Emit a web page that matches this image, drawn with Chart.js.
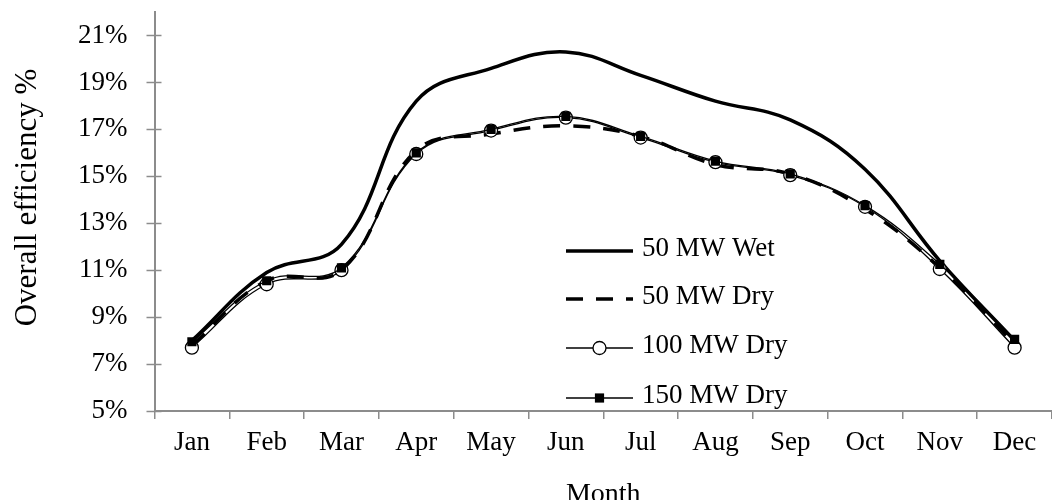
<!DOCTYPE html>
<html>
<head>
<meta charset="utf-8">
<script src="https://cdn.jsdelivr.net/npm/chart.js@4.4.1/dist/chart.umd.min.js"></script>
<style>
    html, body { margin: 0; padding: 0; background: #fff; }
    #wrap { width: 1052px; height: 500px; }
</style>
</head>
<body>
<div id="wrap"><canvas id="efficiency_chart"></canvas></div>
<script>
var months = ["Jan", "Feb", "Mar", "Apr", "May", "Jun", "Jul", "Aug", "Sep", "Oct", "Nov", "Dec"];
var wet50 = [8.0, 10.9, 12.1, 18.2, 19.6, 20.3, 19.3, 18.2, 17.4, 15.3, 11.4, 8.0];
var dry50 = [7.8, 10.55, 11.0, 16.1, 16.8, 17.15, 16.7, 15.5, 15.1, 13.6, 11.1, 7.85];
var dry100 = [7.7, 10.4, 11.0, 15.95, 16.95, 17.5, 16.65, 15.6, 15.05, 13.7, 11.05, 7.7];
var dry150 = [7.95, 10.55, 11.1, 16.0, 17.0, 17.55, 16.7, 15.65, 15.1, 13.75, 11.25, 8.05];
var seriesLabels = ["50 MW Wet", "50 MW Dry", "100 MW Dry", "150 MW Dry"];
var yTitle = "Overall efficiency %";
var xTitle = "Month";
var yMin = 5, yMax = 22;

var FONT = "'Liberation Serif', 'Times New Roman', serif";
var AXIS_GREY = "#8c8c8c";

// legend drawn inside the plot, like the original
var legendPlugin = {
    id: "insideLegend",
    afterDraw: function(chart){
        var ctx = chart.ctx;
        var rows = [251, 299, 348, 398];
        var x0 = 566, x1 = 633, tx = 642;
        ctx.save();
        chart.data.datasets.forEach(function(ds, i){
            var y = rows[i];
            ctx.beginPath();
            ctx.strokeStyle = "#000";
            ctx.lineWidth = ds.borderWidth;
            ctx.setLineDash(ds.borderDash || []);
            ctx.moveTo(x0, y);
            ctx.lineTo(x1, y);
            ctx.stroke();
            ctx.setLineDash([]);
            var cx = (x0 + x1) / 2;
            if (ds.pointStyle === "circle"){
                ctx.beginPath();
                ctx.arc(cx, y, ds.pointRadius, 0, Math.PI * 2);
                ctx.fillStyle = "#fff";
                ctx.fill();
                ctx.lineWidth = ds.pointBorderWidth;
                ctx.stroke();
            } else if (ds.pointStyle === "rect"){
                var h = ds.pointRadius * Math.SQRT1_2;
                ctx.fillStyle = "#000";
                ctx.fillRect(cx - h, y - h, h * 2, h * 2);
            }
            ctx.fillStyle = "#000";
            ctx.font = "27px " + FONT;
            ctx.textAlign = "left";
            ctx.textBaseline = "middle";
            ctx.fillText(ds.label, tx, y - 2);
        });
        ctx.restore();
    }
};

// y ticks: major ones cross the axis, minor ones sit inside; plus the y title
var yAxisPlugin = {
    id: "yAxisExtras",
    afterDraw: function(chart){
        var scale = chart.scales.y;
        var ctx = chart.ctx;
        var x = scale.right;
        ctx.save();
        ctx.strokeStyle = AXIS_GREY;
        ctx.lineWidth = 1.5;
        scale.ticks.forEach(function(t){
            var py = Math.round(scale.getPixelForValue(t.value)) + 0.5;
            var major = t.value % 2 === 1;
            ctx.beginPath();
            ctx.moveTo(major ? x - 8 : x, py);
            ctx.lineTo(x + 7, py);
            ctx.stroke();
        });
        ctx.translate(28, 197.5);
        ctx.rotate(-Math.PI / 2);
        ctx.fillStyle = "#000";
        ctx.font = "31px " + FONT;
        ctx.textAlign = "center";
        ctx.textBaseline = "middle";
        ctx.fillText(yTitle, 0, 0);
        ctx.restore();
    }
};

function makeDataset(label, data, opts){
    var ds = {
        label: label,
        data: data,
        borderColor: "#000",
        backgroundColor: "#000",
        fill: false,
        tension: 0.4,
        pointRadius: 0,
        pointHoverRadius: 0
    };
    for (var k in opts){
        ds[k] = opts[k];
    }
    return ds;
}

var ctx = document.getElementById("efficiency_chart");
new Chart(ctx, {
    type: "line",
    data: {
        labels: months,
        datasets: [
            makeDataset(seriesLabels[0], wet50, {borderWidth: 3.5, order: 4}),
            makeDataset(seriesLabels[1], dry50, {borderWidth: 3.5, borderDash: [17, 13], order: 3}),
            makeDataset(seriesLabels[2], dry100, {
                borderWidth: 1.3, order: 2,
                pointStyle: "circle", pointRadius: 6.5, pointBorderWidth: 1.3,
                pointBackgroundColor: "#fff", pointBorderColor: "#000"
            }),
            makeDataset(seriesLabels[3], dry150, {
                borderWidth: 1.3, order: 1,
                pointStyle: "rect", pointRadius: 6.5, pointBorderWidth: 0,
                pointBackgroundColor: "#000", pointBorderColor: "#000"
            })
        ]
    },
    options: {
        responsive: true,
        maintainAspectRatio: false,
        animation: false,
        layout: {
            autoPadding: false,
            padding: { top: 12, right: 0, bottom: 0, left: 0 }
        },
        plugins: {
            legend: { display: false },
            tooltip: { enabled: false }
        },
        scales: {
            x: {
                offset: true,
                grid: {
                    offset: true,
                    drawOnChartArea: false,
                    tickLength: 8,
                    color: AXIS_GREY,
                    lineWidth: 1.5
                },
                border: { display: true, color: AXIS_GREY, width: 2 },
                ticks: {
                    color: "#000",
                    font: { family: FONT, size: 27 },
                    padding: 8,
                    maxRotation: 0,
                    autoSkip: false
                },
                title: {
                    display: true,
                    text: xTitle,
                    color: "#000",
                    font: { family: FONT, size: 28 },
                    padding: { top: 0, bottom: -11 }
                },
                afterFit: function(scale){
                    scale.height = 89;
                    scale.paddingLeft = 0;
                    scale.paddingRight = 0;
                }
            },
            y: {
                min: yMin,
                max: yMax,
                grid: {
                    drawOnChartArea: false,
                    tickLength: 8,
                    color: "rgba(0,0,0,0)"
                },
                border: { display: true, color: AXIS_GREY, width: 2 },
                ticks: {
                    stepSize: 1,
                    color: "#000",
                    font: { family: FONT, size: 27 },
                    padding: 19,
                    callback: function(v){
                        return v % 2 === 1 ? v + "%" : "";
                    }
                },
                afterFit: function(scale){
                    scale.width = 154.5;
                    scale.paddingTop = 0;
                    scale.paddingBottom = 0;
                }
            }
        }
    },
    plugins: [legendPlugin, yAxisPlugin]
});
</script>
</body>
</html>
